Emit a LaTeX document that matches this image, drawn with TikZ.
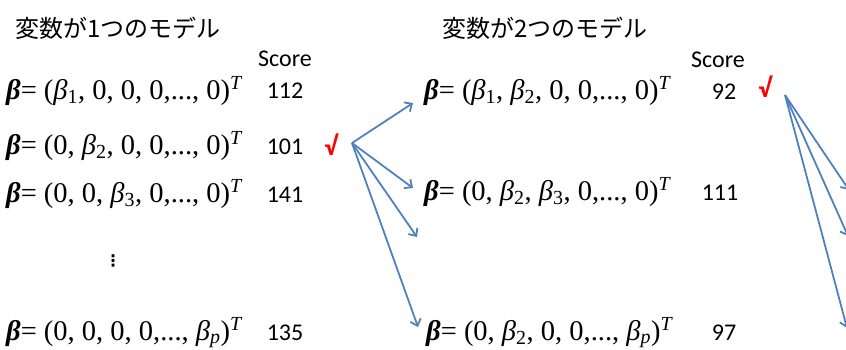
\documentclass[tikz,border=0pt]{standalone}
\usepackage{fontspec}
\setmainfont{Liberation Serif}
\newfontfamily\cjkfont{Noto Sans CJK JP}
\newfontfamily\scorefont{Carlito}
\newfontfamily\symfont{DejaVu Sans}
\usetikzlibrary{arrows.meta}
\definecolor{arrowblue}{RGB}{79,129,189}
\newcommand\bb{{\bfseries\itshape β}}
\newcommand\bi[1]{\textit{β}\textsubscript{#1}}
\newcommand\tT{\textsuperscript{\textit{T}}}
\begin{document}
\begin{tikzpicture}[x=1pt,y=-1pt,
 title/.style={font=\cjkfont\fontsize{24}{24}\selectfont, anchor=base west, inner sep=0},
 formula/.style={font=\fontsize{28.5}{28.5}\selectfont, anchor=base west, inner sep=0},
 score/.style={font=\scorefont\fontsize{24}{24}\selectfont, anchor=base, inner sep=0},
 check/.style={font=\scorefont\bfseries\fontsize{27}{27}\selectfont, text=red, anchor=base, inner sep=0},
 link/.style={draw=arrowblue, line width=1.8pt, -{Straight Barb[length=6pt,width=11pt]}}]
\useasboundingbox (0,0) rectangle (846,349);
\clip (0,0) rectangle (846,349);
% left column
\node[title] (t1) at (15,37) {変数が1つのモデル};
\node[score] (s1) at (285,66) {Score};
\node[formula] (f11) at (6,99) {\bb= (\bi{1}, 0, 0, 0,..., 0)\tT};
\node[score] (n11) at (285,98) {112};
\node[formula] (f12) at (6,154) {\bb= (0, \bi{2}, 0, 0,..., 0)\tT};
\node[score] (n12) at (285,154) {101};
\node[check] (c1) at (331,155) {√};
\node[formula] (f13) at (6,202) {\bb= (0, 0, \bi{3}, 0,..., 0)\tT};
\node[score] (n13) at (285,202) {141};
\node[font=\symfont\bfseries\fontsize{16}{16}\selectfont, inner sep=0] (vd) at (113,261) {⋮};
\node[formula] (f14) at (6,340) {\bb= (0, 0, 0, 0,..., \bi{\textit{p}})\tT};
\node[score] (n14) at (285,340) {135};
% right column
\node[title] (t2) at (442,37) {変数が2つのモデル};
\node[score] (s2) at (718,67) {Score};
\node[formula] (f21) at (424,99) {\bb= (\bi{1}, \bi{2}, 0, 0,..., 0)\tT};
\node[score] (n21) at (724,99) {92};
\node[check] (c2) at (765,97) {√};
\node[formula] (f22) at (424,200) {\bb= (0, \bi{2}, \bi{3}, 0,..., 0)\tT};
\node[score] (n22) at (720,200) {111};
\node[formula] (f23) at (426,340) {\bb= (0, \bi{2}, 0, 0,..., \bi{\textit{p}})\tT};
\node[score] (n23) at (724,340) {97};
% arrows
\coordinate (o1) at (352,143);
\coordinate (a1) at (413,103);
\coordinate (a2) at (413,188);
\coordinate (a3) at (417,237);
\coordinate (a4) at (418,327);
\coordinate (o2) at (785,95);
\coordinate (b1) at (849,190);
\coordinate (b2) at (848,236);
\coordinate (b3) at (847,328);
\foreach \t in {a1,a2,a3,a4} \draw[link] (o1) -- (\t);
\foreach \t in {b1,b2,b3} \draw[link] (o2) -- (\t);
\end{tikzpicture}
\end{document}
